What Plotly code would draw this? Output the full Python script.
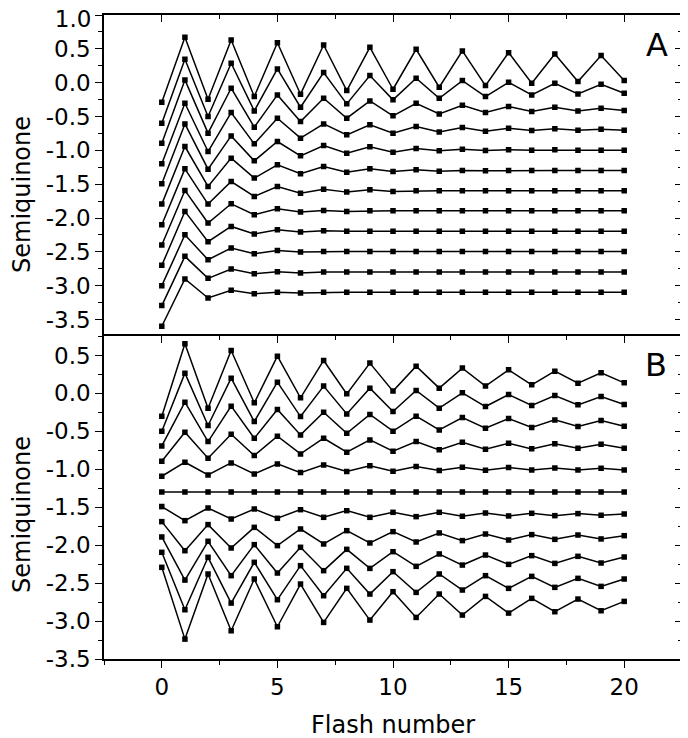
import plotly.graph_objects as go

flash = list(range(21))

# Panel A series (top to bottom)
A1 = [-0.29, 0.67, -0.245, 0.63, -0.205, 0.59, -0.17, 0.557, -0.117, 0.523, -0.097, 0.493, -0.067, 0.469, -0.043, 0.444, -0.008, 0.424, 0.016, 0.40, 0.031]
A2 = [-0.60, 0.346, -0.50, 0.287, -0.417, 0.203, -0.363, 0.149, -0.313, 0.105, -0.254, 0.065, -0.230, 0.031, -0.205, 0.006, -0.181, -0.009, -0.166, -0.023, -0.156]
A3 = [-0.894, 0.041, -0.746, -0.082, -0.658, -0.181, -0.574, -0.230, -0.525, -0.269, -0.490, -0.304, -0.461, -0.333, -0.441, -0.353, -0.427, -0.363, -0.417, -0.377, -0.412]
A4 = [-1.199, -0.304, -1.017, -0.441, -0.904, -0.525, -0.820, -0.609, -0.771, -0.623, -0.746, -0.648, -0.727, -0.663, -0.717, -0.673, -0.707, -0.682, -0.702, -0.687, -0.702]
A5 = [-1.494, -0.609, -1.278, -0.786, -1.155, -0.869, -1.081, -0.928, -1.041, -0.948, -1.027, -0.973, -1.007, -0.983, -1.002, -0.992, -0.997, -0.992, -0.997, -0.997, -0.997]
A6 = [-1.794, -0.943, -1.533, -1.115, -1.410, -1.214, -1.346, -1.238, -1.322, -1.273, -1.312, -1.288, -1.307, -1.297, -1.302, -1.297, -1.297, -1.297, -1.297, -1.297, -1.297]
A7 = [-2.099, -1.273, -1.794, -1.460, -1.681, -1.533, -1.632, -1.573, -1.617, -1.583, -1.607, -1.597, -1.597, -1.597, -1.597, -1.597, -1.597, -1.597, -1.597, -1.597, -1.597]
A8 = [-2.399, -1.592, -2.074, -1.789, -1.951, -1.863, -1.912, -1.888, -1.902, -1.892, -1.892, -1.892, -1.892, -1.892, -1.892, -1.892, -1.892, -1.892, -1.892, -1.892, -1.892]
A9 = [-2.699, -1.902, -2.350, -2.124, -2.237, -2.173, -2.207, -2.188, -2.195, -2.195, -2.195, -2.195, -2.195, -2.195, -2.195, -2.195, -2.195, -2.195, -2.195, -2.195, -2.195]
A10 = [-2.999, -2.247, -2.616, -2.443, -2.527, -2.478, -2.502, -2.493, -2.495, -2.495, -2.495, -2.495, -2.495, -2.495, -2.495, -2.495, -2.495, -2.495, -2.495, -2.495, -2.495]
A11 = [-3.294, -2.566, -2.891, -2.753, -2.822, -2.792, -2.812, -2.797, -2.797, -2.797, -2.797, -2.797, -2.797, -2.797, -2.797, -2.797, -2.797, -2.797, -2.797, -2.797, -2.797]
A12 = [-3.599, -2.901, -3.181, -3.068, -3.117, -3.098, -3.108, -3.098, -3.098, -3.098, -3.098, -3.098, -3.098, -3.098, -3.098, -3.098, -3.098, -3.098, -3.098, -3.098, -3.098]

# Panel B series (top to bottom)
B1 = [-0.300, 0.654, -0.195, 0.566, -0.124, 0.491, -0.058, 0.434, -0.006, 0.399, 0.030, 0.359, 0.069, 0.333, 0.096, 0.311, 0.113, 0.293, 0.135, 0.271, 0.139]
B2 = [-0.498, 0.267, -0.423, 0.201, -0.371, 0.148, -0.305, 0.096, -0.270, 0.069, -0.239, 0.038, -0.195, 0.008, -0.173, -0.014, -0.160, -0.028, -0.151, -0.041, -0.146]
B3 = [-0.692, -0.116, -0.635, -0.168, -0.591, -0.212, -0.547, -0.248, -0.525, -0.278, -0.498, -0.300, -0.481, -0.318, -0.459, -0.331, -0.450, -0.349, -0.437, -0.357, -0.432]
B4 = [-0.894, -0.511, -0.854, -0.538, -0.819, -0.564, -0.797, -0.591, -0.775, -0.613, -0.762, -0.635, -0.744, -0.643, -0.736, -0.656, -0.731, -0.665, -0.722, -0.670, -0.722]
B5 = [-1.092, -0.907, -1.074, -0.916, -1.061, -0.929, -1.044, -0.942, -1.030, -0.955, -1.026, -0.964, -1.017, -0.973, -1.013, -0.977, -1.008, -0.982, -1.008, -0.986, -1.008]
B6 = [-1.30, -1.30, -1.30, -1.30, -1.30, -1.30, -1.30, -1.30, -1.30, -1.30, -1.30, -1.30, -1.30, -1.30, -1.30, -1.30, -1.30, -1.30, -1.30, -1.30, -1.30]
B7 = [-1.492, -1.677, -1.510, -1.655, -1.523, -1.646, -1.532, -1.633, -1.545, -1.633, -1.567, -1.624, -1.567, -1.619, -1.576, -1.615, -1.580, -1.611, -1.584, -1.606, -1.589]
B8 = [-1.690, -2.073, -1.729, -2.037, -1.765, -2.006, -1.787, -1.984, -1.809, -1.971, -1.822, -1.958, -1.839, -1.940, -1.853, -1.932, -1.861, -1.923, -1.866, -1.918, -1.875]
B9 = [-1.892, -2.460, -1.949, -2.402, -1.993, -2.367, -2.028, -2.336, -2.055, -2.306, -2.086, -2.279, -2.116, -2.262, -2.130, -2.253, -2.138, -2.240, -2.147, -2.235, -2.156]
B10 = [-2.094, -2.851, -2.160, -2.763, -2.226, -2.719, -2.270, -2.666, -2.305, -2.644, -2.349, -2.622, -2.380, -2.591, -2.402, -2.569, -2.411, -2.556, -2.437, -2.543, -2.446]
B11 = [-2.292, -3.238, -2.380, -3.128, -2.446, -3.075, -2.512, -3.018, -2.569, -2.987, -2.613, -2.952, -2.644, -2.921, -2.675, -2.895, -2.701, -2.877, -2.710, -2.864, -2.741]

panel_a = [A1, A2, A3, A4, A5, A6, A7, A8, A9, A10, A11, A12]
panel_b = [B1, B2, B3, B4, B5, B6, B7, B8, B9, B10, B11]

x_ticks = [0, 5, 10, 15, 20]
ya_ticks = [1.0, 0.5, 0.0, -0.5, -1.0, -1.5, -2.0, -2.5, -3.0, -3.5]
yb_ticks = [0.5, 0.0, -0.5, -1.0, -1.5, -2.0, -2.5, -3.0, -3.5]

FONT = "DejaVu Sans"
TICKFONT = dict(family=FONT, size=23, color="black")
line_style = dict(color="black", width=1.5)
marker_style = dict(symbol="square", size=5.5, color="black")

fig = go.Figure()
for s in panel_a:
    fig.add_trace(go.Scatter(x=flash, y=s, mode="lines+markers", line=line_style,
                             marker=marker_style, xaxis="x2", yaxis="y2", showlegend=False))
for s in panel_b:
    fig.add_trace(go.Scatter(x=flash, y=s, mode="lines+markers", line=line_style,
                             marker=marker_style, xaxis="x", yaxis="y", showlegend=False))
# dummy traces to activate mirror axes (inside ticks on top/right) and the top label axis
fig.add_trace(go.Scatter(x=[None], y=[None], xaxis="x3", yaxis="y3", showlegend=False, hoverinfo="skip"))
fig.add_trace(go.Scatter(x=[None], y=[None], xaxis="x4", yaxis="y4", showlegend=False, hoverinfo="skip"))
fig.add_trace(go.Scatter(x=[None], y=[None], xaxis="x2", yaxis="y5", showlegend=False, hoverinfo="skip"))

XR = [-2.5, 22.5]
YA = [-3.75, 1.0]
YB = [-3.5, 0.75]
split = 0.5008

OFF = 8  # page offset of the figure inside the browser page
W, H = 688, 738
ML, MR, MT, MB = 104 - OFF, W + OFF - 682, 15 - OFF, H + OFF - 659
PW = W - ML - MR
PH = H - MT - MB

common = dict(showgrid=False, zeroline=False, showline=True, linecolor="black", linewidth=1.5,
              tickcolor="black", tickwidth=1.2, automargin=False)

def fmt(v):
    return f"{v:.1f}"

def minor(ticks, dt):
    return dict(tickmode="linear", tick0=0, dtick=dt, ticks=ticks, ticklen=4,
                tickcolor="black", tickwidth=1.2)

fig.update_layout(
    width=W, height=H,
    margin=dict(l=ML, r=MR, t=MT, b=MB),
    paper_bgcolor="white", plot_bgcolor="white",
    font=dict(family=FONT, color="black"),
    xaxis=dict(domain=[0, 1], anchor="y", range=XR, tickmode="array", tickvals=x_ticks,
               ticktext=[str(v) for v in x_ticks], ticks="outside", ticklen=7, tickfont=TICKFONT,
               ticklabeloverflow="allow", minor=minor("outside", 2.5), **common),
    yaxis=dict(domain=[0, split], anchor="x", range=YB, tickmode="array", tickvals=yb_ticks,
               ticktext=[fmt(v) for v in yb_ticks], ticks="outside", ticklen=7, tickfont=TICKFONT,
               ticklabeloverflow="allow", minor=minor("outside", 0.25), **common),
    xaxis2=dict(domain=[0, 1], anchor="y2", range=XR, showticklabels=False, ticks="",
                **{**common, "showline": False}),
    yaxis2=dict(domain=[split, 1], anchor="x2", range=YA, tickmode="array", tickvals=ya_ticks,
                ticktext=[""] + [fmt(v) for v in ya_ticks[1:]], ticks="outside", ticklen=7,
                tickfont=TICKFONT, ticklabeloverflow="allow", minor=minor("outside", 0.25), **common),
    yaxis5=dict(overlaying="y2", side="left", anchor="x2", range=YA, tickmode="array",
                tickvals=ya_ticks[:1], ticktext=[fmt(ya_ticks[0])], ticks="outside", ticklen=7,
                tickcolor="rgba(0,0,0,0)", tickfont=TICKFONT, ticklabeloverflow="allow",
                ticklabelshift=4, showline=False, showgrid=False, zeroline=False, automargin=False),
    xaxis3=dict(overlaying="x", side="top", anchor="y", range=XR, showticklabels=False,
                tickmode="linear", tick0=0, dtick=5, ticks="inside", ticklen=7,
                minor=minor("inside", 2.5), **common),
    yaxis3=dict(overlaying="y", side="right", anchor="x", range=YB, showticklabels=False,
                tickmode="linear", tick0=0, dtick=0.5, ticks="inside", ticklen=7,
                minor=minor("inside", 0.25), **common),
    xaxis4=dict(overlaying="x2", side="top", anchor="y2", range=XR, showticklabels=False,
                tickmode="linear", tick0=0, dtick=5, ticks="inside", ticklen=7,
                minor=minor("inside", 2.5), **common),
    yaxis4=dict(overlaying="y2", side="right", anchor="x2", range=YA, showticklabels=False,
                tickmode="linear", tick0=0, dtick=0.5, ticks="inside", ticklen=7,
                minor=minor("inside", 0.25), **common),
)

# positions below are given in reference-page pixels
def py(ypix):
    return (H - MB + OFF - ypix) / PH

def px(xpix):
    return (xpix - OFF - ML) / PW

TITLEFONT = dict(family=FONT, size=24, color="black")
fig.add_annotation(text="Flash number", xref="paper", yref="paper", x=0.5, y=py(725),
                   xanchor="center", yanchor="middle", showarrow=False, font=TITLEFONT)
fig.add_annotation(text="Semiquinone", xref="paper", yref="paper", x=px(22), y=py(195),
                   xanchor="center", yanchor="middle", textangle=-90,
                   showarrow=False, font=TITLEFONT)
fig.add_annotation(text="Semiquinone", xref="paper", yref="paper", x=px(22), y=py(515),
                   xanchor="center", yanchor="middle", textangle=-90,
                   showarrow=False, font=TITLEFONT)
fig.add_annotation(text="A", xref="paper", yref="paper", x=px(657), y=py(45),
                   xanchor="center", yanchor="middle", showarrow=False,
                   font=dict(family=FONT, size=32, color="black"))
fig.add_annotation(text="B", xref="paper", yref="paper", x=px(656), y=py(365),
                   xanchor="center", yanchor="middle", showarrow=False,
                   font=dict(family=FONT, size=32, color="black"))

fig.write_html("out.html")
